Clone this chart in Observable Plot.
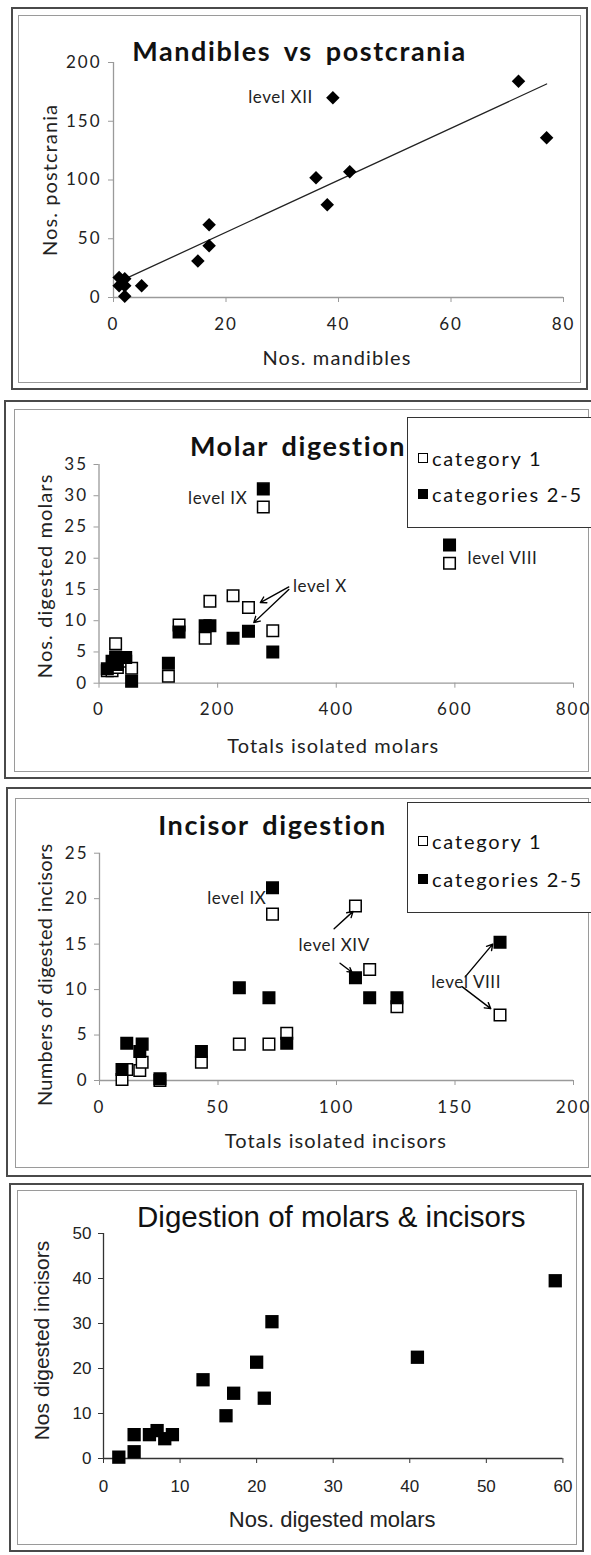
<!DOCTYPE html>
<html>
<head>
<meta charset="utf-8">
<script src="https://cdn.jsdelivr.net/npm/d3@7"></script>
<script src="https://cdn.jsdelivr.net/npm/@observablehq/plot@0.6"></script>
<style>
html, body { margin: 0; padding: 0; background: #fff; }
#page { position: relative; width: 591px; height: 1555px; overflow: hidden; background: #fff; }
.outer { position: absolute; box-sizing: border-box; border: 2px solid #4a4a4a; z-index: 0; }
.inner { position: absolute; box-sizing: border-box; border: 1.5px solid #9a9a9a; z-index: 0; }
#page svg { position: absolute; left: 0; z-index: 2; }
svg.excel g[aria-label$="axis tick"] { color: #9a9a9a; }
svg.excel g[aria-label$="tick label"] { letter-spacing: 2px; }
svg.arial g[aria-label$="axis tick"] { color: #333; }
g[aria-description="chart-title"] text { letter-spacing: 1.6px; word-spacing: 5px; }
g[aria-description="axis-title"] text { letter-spacing: 1.1px; }
g[aria-description="long-axis-title"] text { letter-spacing: 0.3px; }
g[aria-description="level-label"] text { letter-spacing: 0.6px; }
.legend { position: absolute; box-sizing: border-box; border: 1.5px solid #333; background: #fff; z-index: 1;
  font-family: Lato, sans-serif; font-size: 20px; letter-spacing: 1.8px; color: #111; }
.legend .item { position: absolute; left: 10px; display: flex; align-items: center; white-space: nowrap; }
.legend .sw { display: inline-block; width: 10px; height: 10px; box-sizing: border-box; border: 1.3px solid #000; margin-right: 4px; }
</style>
</head>
<body>
<div id="page"></div>
<script>
// ---------- Panel 1: Mandibles vs postcrania ----------
const mandibles  = [1, 2, 1, 2, 2, 5, 15, 17, 17, 36, 38, 39, 42, 72, 77];
const postcrania = [17, 16, 10, 10, 1, 10, 31, 44, 62, 102, 79, 170, 107, 184, 136];
const mandXTicks = [0, 20, 40, 60, 80];
const mandYTicks = [0, 50, 100, 150, 200];
const mandLevelText = ["level XII"];
const mandLevelX = [39];
const mandLevelY = [170];

// ---------- Panel 2: Molar digestion ----------
const molarTotals = [14, 22, 28, 31, 45, 55, 117, 135, 179, 187, 226, 252, 293, 277, 591];
const molarCat1   = [2.0, 2.0, 6.3, 2.5, 3.5, 2.4, 1.1, 9.3, 7.2, 13.1, 14.0, 12.1, 8.4, 28.2, 19.2];
const molarCat25  = [2.3, 3.5, 4.2, 3.0, 4.1, 0.3, 3.2, 8.2, 9.2, 9.2, 7.2, 8.3, 5.0, 31.1, 22.1];
const molarXTicks = [0, 200, 400, 600, 800];
const molarYTicks = [0, 5, 10, 15, 20, 25, 30, 35];
const molarLevelText = ["level IX", "level VIII", "level X"];
const molarLevelX = [277, 591, 327];
const molarLevelY = [29.5, 20.0, 15.5];
const molarArrowX1 = [320, 320];
const molarArrowY1 = [15.4, 15.0];
const molarArrowX2 = [272, 261];
const molarArrowY2 = [12.9, 9.7];

// ---------- Panel 3: Incisor digestion ----------
const incisorTotals = [9.5, 11.5, 17, 18, 25.5, 43, 59, 71.5, 73, 79, 108, 114, 125.5, 169];
const incisorCat1   = [0.1, 1.2, 1.1, 2.0, 0.0, 2.0, 4.0, 4.0, 18.3, 5.2, 19.2, 12.2, 8.1, 7.2];
const incisorCat25  = [1.2, 4.1, 3.2, 4.0, 0.2, 3.2, 10.2, 9.1, 21.2, 4.1, 11.3, 9.1, 9.1, 15.2];
const incisorXTicks = [0, 50, 100, 150, 200];
const incisorYTicks = [0, 5, 10, 15, 20, 25];
const incisorLevelText = ["level IX", "level XIV", "level VIII"];
const incisorLevelX = [73, 99, 154.7];
const incisorLevelY = [20.0, 14.8, 10.8];
const incisorArrowX1 = [99, 101.5, 154.3, 153.1];
const incisorArrowY1 = [16.7, 12.9, 11.4, 10.3];
const incisorArrowX2 = [107, 106.5, 165.9, 165.1];
const incisorArrowY2 = [18.6, 11.9, 15.0, 7.9];

// ---------- Panel 4: Digestion of molars & incisors ----------
const digestedMolars   = [2, 4, 4, 6, 7, 8, 9, 13, 16, 17, 20, 21, 22, 41, 59];
const digestedIncisors = [0.3, 1.5, 5.3, 5.3, 6.2, 4.4, 5.3, 17.5, 9.5, 14.5, 21.4, 13.4, 30.4, 22.5, 39.5];
const digXTicks = [0, 10, 20, 30, 40, 50, 60];
const digYTicks = [0, 10, 20, 30, 40, 50];

const seriesNames = ["category 1", "categories 2-5"];

// ---------- helpers ----------
const page = document.getElementById("page");
const zip2 = (xs, ys) => xs.map((x, i) => ({x, y: ys[i]}));
const labelRows = (t, xs, ys) => t.map((s, i) => ({text: s, x: xs[i], y: ys[i]}));
const arrowRows = (x1, y1, x2, y2) => x1.map((v, i) => ({x1: v, y1: y1[i], x2: x2[i], y2: y2[i]}));

function box(cls, l, t, r, b) {
  const d = document.createElement("div");
  d.className = cls;
  Object.assign(d.style, {left: l + "px", top: t + "px", width: (r - l) + "px", height: (b - t) + "px"});
  page.appendChild(d);
}
function frame(o, i) { box("outer", ...o); box("inner", ...i); }

function makePlot(c) {
  const svg = Plot.plot({
    width: 591, height: c.height,
    marginLeft: c.ml, marginRight: c.mr, marginTop: c.mt, marginBottom: c.mb,
    x: {domain: c.xDomain, ticks: c.xTicks, tickSize: 5, tickPadding: c.xPad, label: null},
    y: {domain: c.yDomain, ticks: c.yTicks, tickSize: 5, tickPadding: c.yPad, label: null},
    style: {fontFamily: c.font, fontSize: c.tickFont + "px", color: "#222", background: "transparent", overflow: "visible"},
    marks: [
      Plot.ruleY([c.yDomain[0]], {stroke: c.axisColor, strokeWidth: 1.3}),
      Plot.ruleX([c.xDomain[0]], {stroke: c.axisColor, strokeWidth: 1.3}),
      ...c.marks
    ]
  });
  svg.classList.add(c.cls);
  svg.style.top = c.top + "px";
  page.appendChild(svg);
}

function legend(l, t, r, b, rows) {
  const d = document.createElement("div");
  d.className = "legend";
  Object.assign(d.style, {left: l + "px", top: t + "px", width: (r - l) + "px", height: (b - t) + "px"});
  rows.forEach(row => {
    const it = document.createElement("div");
    it.className = "item";
    it.style.top = (row.cy - 12) + "px";
    it.style.height = "24px";
    const sw = document.createElement("span");
    sw.className = "sw";
    sw.style.background = row.fill;
    const tx = document.createElement("span");
    tx.textContent = row.label;
    it.appendChild(sw); it.appendChild(tx);
    d.appendChild(it);
  });
  page.appendChild(d);
}

function titleMark(text, dx, dy, size, weight, desc) {
  return Plot.text([text], {text: d => d, frameAnchor: "top-left", dx, dy, textAnchor: "middle", lineAnchor: "middle",
    fontSize: size, fontWeight: weight, fill: "#111", ariaDescription: desc});
}
function xTitle(text, dx, dy, size, desc) {
  return Plot.text([text], {text: d => d, frameAnchor: "bottom", dx, dy, textAnchor: "middle", lineAnchor: "middle",
    fontSize: size, fill: "#222", ariaDescription: desc});
}
function yTitle(text, dx, dy, size, desc) {
  return Plot.text([text], {text: d => d, frameAnchor: "left", dx, dy, rotate: -90, textAnchor: "middle", lineAnchor: "middle",
    fontSize: size, fill: "#222", ariaDescription: desc});
}
function levelText(rows, anchor, dx) {
  return Plot.text(rows, {x: "x", y: "y", text: "text", textAnchor: anchor, dx, fontSize: 17, fill: "#222", ariaDescription: "level-label"});
}

// ---------- frames ----------
frame([11, 7, 588, 390], [18, 15, 581, 383]);
frame([4, 400, 596, 779], [14, 409, 589, 772]);
frame([6, 787, 596, 1177], [15, 798, 589, 1168]);
frame([9, 1183, 584, 1552], [17, 1190, 577, 1545]);

// ---------- Panel 1 ----------
makePlot({
  cls: "excel", top: 0, height: 395, ml: 113, mr: 28, mt: 62, mb: 98,
  xDomain: [0, 80], yDomain: [0, 200], xTicks: mandXTicks, yTicks: mandYTicks,
  xPad: 15, yPad: 7, font: "Lato, sans-serif", tickFont: 17, axisColor: "#9a9a9a",
  marks: [
    Plot.linearRegressionY(zip2(mandibles, postcrania), {x: "x", y: "y", stroke: "#222", strokeWidth: 1.3, ci: 0}),
    Plot.dot(zip2(mandibles, postcrania), {x: "x", y: "y", symbol: "diamond2", r: 6.1, fill: "#000", stroke: "none"}),
    levelText(labelRows(mandLevelText, mandLevelX, mandLevelY), "end", -20),
    titleMark("Mandibles vs postcrania", 186, -10, 27, "bold", "chart-title"),
    xTitle("Nos. mandibles", -1.5, 61.5, 20, "axis-title"),
    yTitle("Nos. postcrania", -63, 0, 20, "axis-title")
  ]
});

// ---------- Panel 2 ----------
const molarLabels = labelRows(molarLevelText, molarLevelX, molarLevelY);
legend(407, 417, 592, 528, [
  {label: seriesNames[0], fill: "#fff", cy: 40},
  {label: seriesNames[1], fill: "#000", cy: 76}
]);
makePlot({
  cls: "excel", top: 400, height: 380, ml: 98.5, mr: 18, mt: 64, mb: 97.3,
  xDomain: [0, 800], yDomain: [0, 35], xTicks: molarXTicks, yTicks: molarYTicks,
  xPad: 15, yPad: 6, font: "Lato, sans-serif", tickFont: 17, axisColor: "#9a9a9a",
  marks: [
    Plot.dot(zip2(molarTotals, molarCat1), {x: "x", y: "y", symbol: "square", r: 6.5, fill: "#fff", stroke: "#000", strokeWidth: 1.5}),
    Plot.dot(zip2(molarTotals, molarCat25), {x: "x", y: "y", symbol: "square", r: 6.5, fill: "#000", stroke: "#000", strokeWidth: 1.5}),
    Plot.arrow(arrowRows(molarArrowX1, molarArrowY1, molarArrowX2, molarArrowY2), {x1: "x1", y1: "y1", x2: "x2", y2: "y2", stroke: "#000", strokeWidth: 1.4, headLength: 7}),
    levelText(molarLabels.slice(0, 1), "end", -16),
    levelText(molarLabels.slice(1, 2), "start", 18),
    levelText(molarLabels.slice(2), "start", 0),
    titleMark("Molar digestion", 199, -17.5, 27, "bold", "chart-title"),
    xTitle("Totals isolated molars", -3, 63.3, 20, "axis-title"),
    yTitle("Nos. digested molars", -53.5, 2, 20, "axis-title")
  ]
});

// ---------- Panel 3 ----------
const incisorLabels = labelRows(incisorLevelText, incisorLevelX, incisorLevelY);
legend(407, 802, 592, 913, [
  {label: seriesNames[0], fill: "#fff", cy: 38},
  {label: seriesNames[1], fill: "#000", cy: 76}
]);
makePlot({
  cls: "excel", top: 780, height: 400, ml: 99, mr: 18, mt: 72.7, mb: 100,
  xDomain: [0, 200], yDomain: [0, 25], xTicks: incisorXTicks, yTicks: incisorYTicks,
  xPad: 15, yPad: 6, font: "Lato, sans-serif", tickFont: 17, axisColor: "#9a9a9a",
  marks: [
    Plot.dot(zip2(incisorTotals, incisorCat1), {x: "x", y: "y", symbol: "square", r: 6.5, fill: "#fff", stroke: "#000", strokeWidth: 1.5}),
    Plot.dot(zip2(incisorTotals, incisorCat25), {x: "x", y: "y", symbol: "square", r: 6.5, fill: "#000", stroke: "#000", strokeWidth: 1.5}),
    Plot.arrow(arrowRows(incisorArrowX1, incisorArrowY1, incisorArrowX2, incisorArrowY2), {x1: "x1", y1: "y1", x2: "x2", y2: "y2", stroke: "#000", strokeWidth: 1.4, headLength: 7}),
    levelText(incisorLabels.slice(0, 1), "end", -6),
    levelText(incisorLabels.slice(1), "middle", 0),
    titleMark("Incisor digestion", 173, -26.7, 27, "bold", "chart-title"),
    xTitle("Totals isolated incisors", -0.6, 61, 20, "axis-title"),
    yTitle("Numbers of digested incisors", -54, 8, 20, "long-axis-title")
  ]
});

// ---------- Panel 4 ----------
makePlot({
  cls: "arial", top: 1180, height: 375, ml: 103, mr: 28.6, mt: 53, mb: 97,
  xDomain: [0, 60], yDomain: [0, 50], xTicks: digXTicks, yTicks: digYTicks,
  xPad: 16, yPad: 7, font: "'Liberation Sans', Arial, sans-serif", tickFont: 17, axisColor: "#333",
  marks: [
    Plot.dot(zip2(digestedMolars, digestedIncisors), {x: "x", y: "y", symbol: "square", r: 7.5, fill: "#000", stroke: "none"}),
    titleMark("Digestion of molars & incisors", 227.8, -16.3, 29.5, "normal", "plain-title"),
    xTitle("Nos. digested molars", -1, 61, 22, "plain-axis-title"),
    yTitle("Nos digested incisors", -61.5, -5.5, 21, "plain-axis-title")
  ]
});
</script>
</body>
</html>
